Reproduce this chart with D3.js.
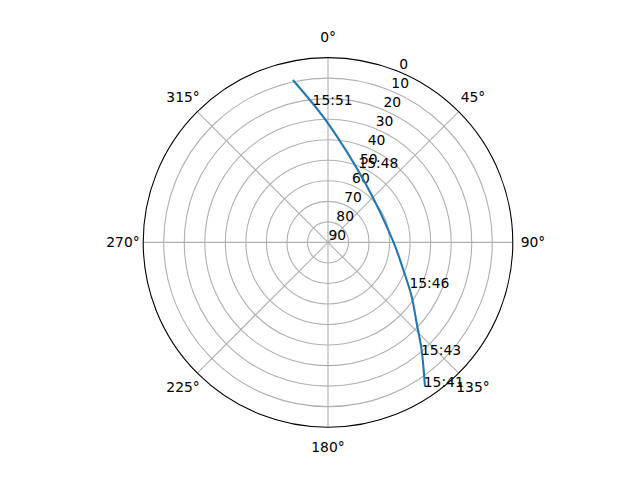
<!DOCTYPE html>
<html lang="en">

<head>
    <meta charset="UTF-8">
    <title>Pass</title>
    <script src="https://unpkg.com/d3@7.8.5/dist/d3.min.js"></script>
    <style>
        * {
            margin: 0;
            padding: 0;
        }

        body {
            background: #fff;
        }

        svg {
            display: block;
            font-family: "DejaVu Sans", sans-serif;
        }
    </style>
</head>

<body>
    <svg class="cc" width="640" height="480"></svg>
    <script>
        // 轨迹数据 (方位角 / 仰角)
        const trackAz = [146.1, 139.0, 132.4, 123.0, 110.1, 89.4, 33.7, 0.0, 347.8]
        const trackEl = [5.3, 20.5, 31.5, 41.4, 50.9, 58.2, 56.4, 32.0, 9.1]

        // 时间标注
        const labelTimes = ['15:41', '15:43', '15:46', '15:48', '15:51']
        const labelAz = [146.5, 140.4, 119.4, 22.1, 353.6]
        const labelEl = [5.5, 18.9, 44.5, 50.7, 22.5]

        // 刻度
        const rTicks = [0, 10, 20, 30, 40, 50, 60, 70, 80, 90]
        const thetaTicks = [0, 45, 90, 135, 180, 225, 270, 315]

        const cx = 328, cy = 242.4, R = 184.8
        const fontSize = 13.89

        const svg = d3.select('svg')
        const g = svg.append('g').attr('transform', `translate(${cx},${cy})`)

        // 仰角 90 在中心, 0 在外圈
        const r = d3.scaleLinear().domain([90, 0]).range([0, R])
        const a = d3.scaleLinear().domain([0, 360]).range([0, 2 * Math.PI])

        const px = (az, el) => r(el) * Math.sin(a(az))
        const py = (az, el) => -r(el) * Math.cos(a(az))

        // 网格圆
        g.selectAll('.ring')
            .data(rTicks.filter(v => v > 0 && v < 90))
            .enter().append('circle')
            .attr('r', v => r(v))
            .attr('fill', 'none')
            .attr('stroke', '#b0b0b0')
            .attr('stroke-width', 1.1)

        // 角度网格线
        g.selectAll('.spoke')
            .data(thetaTicks)
            .enter().append('line')
            .attr('x1', 0)
            .attr('y1', 0)
            .attr('x2', v => px(v, 0))
            .attr('y2', v => py(v, 0))
            .attr('stroke', '#b0b0b0')
            .attr('stroke-width', 1.1)

        // 外框
        g.append('circle')
            .attr('r', r(0))
            .attr('fill', 'none')
            .attr('stroke', '#000')
            .attr('stroke-width', 1.1)

        // 角度标签
        g.selectAll('.tlab')
            .data(thetaTicks)
            .enter().append('text')
            .attr('x', v => (R + 20.2) * Math.sin(a(v)))
            .attr('y', v => -(R + 20.2) * Math.cos(a(v)) + 5)
            .attr('text-anchor', 'middle')
            .attr('font-size', fontSize)
            .text(v => v + '°')

        // 半径标签 (22.5°)
        g.selectAll('.rlab')
            .data(rTicks)
            .enter().append('text')
            .attr('x', v => px(22.5, v) + 0.5)
            .attr('y', v => py(22.5, v) - 2.5)
            .attr('font-size', fontSize)
            .text(v => v)

        // 轨迹
        const track = trackAz.map((v, i) => ({ az: v, el: trackEl[i] }))
        const line = d3.lineRadial()
            .angle(d => a(d.az))
            .radius(d => r(d.el))
            .curve(d3.curveCatmullRom.alpha(0.5))

        g.append('path')
            .attr('d', line(track))
            .attr('fill', 'none')
            .attr('stroke', '#1f77b4')
            .attr('stroke-width', 2.08)

        // 时间标注
        g.selectAll('.time')
            .data(labelTimes)
            .enter().append('text')
            .attr('x', (v, i) => px(labelAz[i], labelEl[i]))
            .attr('y', (v, i) => py(labelAz[i], labelEl[i]))
            .attr('font-size', fontSize)
            .text(v => v)
    </script>
</body>

</html>
